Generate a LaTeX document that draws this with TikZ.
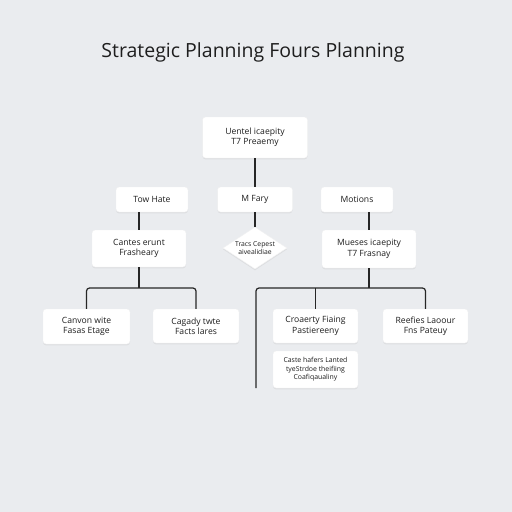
\documentclass[tikz,border=0pt]{standalone}
\usepackage{fontspec}
\setmainfont{Open Sans}
\usetikzlibrary{shapes.geometric,shadows}
\definecolor{bg}{HTML}{EAECEF}
\definecolor{ink}{HTML}{1E1E1E}
\definecolor{lin}{HTML}{262626}
\tikzset{
  box/.style={draw=white!88!gray, line width=0.4pt, fill=white, rounded corners=3pt, inner sep=0pt,
    align=center, font=\fontsize{8.6}{10.4}\selectfont, text=ink,
    drop shadow={opacity=0.12, shadow xshift=0pt, shadow yshift=-1.4pt}},
  dia/.style={diamond, draw=white!88!gray, fill=white, inner sep=0pt, align=center,
    font=\fontsize{6.8}{8.2}\selectfont, text=ink, aspect=1.5,
    drop shadow={opacity=0.12, shadow xshift=0pt, shadow yshift=-1.4pt}},
  conn/.style={draw=lin, line width=1.2pt},
}
\begin{document}
\begin{tikzpicture}[x=1pt,y=-1pt]
\fill[bg] (0,0) rectangle (512,512);
\useasboundingbox (0,0) rectangle (512,512);
\node[text=ink, font=\fontsize{19.5}{22}\selectfont] (title) at (253,52) {Strategic Planning Fours Planning};
% boxes
\node[box, minimum width=105, minimum height=41] (top) at (255,137.5) {Uentel icaepity\\T7 Preaemy};
\node[box, minimum width=72, minimum height=25] (tow) at (152,199.5) {Tow Hate};
\node[box, minimum width=75, minimum height=25] (mfary) at (255,199.5) {M Fary};
\node[box, minimum width=72, minimum height=25] (motions) at (357,199.5) {Motions};
\node[box, minimum width=94, minimum height=37] (cantes) at (139,248.5) {Cantes erunt\\Frasheary};
\node[dia, minimum width=64, minimum height=42] (diam) at (255,248) {Tracs Cepest\\aivealidiae};
\node[box, minimum width=94, minimum height=38] (mueses) at (369,249) {Mueses icaepity\\T7 Frasnay};
\node[box, minimum width=87, minimum height=35] (canvon) at (86.5,326.5) {Canvon wite\\Fasas Etage};
\node[box, minimum width=86, minimum height=34] (cagady) at (196,326) {Cagady twte\\Facts lares};
\node[box, minimum width=85, minimum height=34] (croaerty) at (315.5,326) {Croaerty Fiaing\\Pastiereeny};
\node[box, minimum width=85, minimum height=34] (reefies) at (425.5,326) {Reefies Laoour\\Fns Pateuy};
\node[box, minimum width=85, minimum height=37, font=\fontsize{6.9}{8.6}\selectfont] (caste) at (315.5,369.5) {Caste hafers Lanted\\tyeStrdoe theifiing\\Coafiqaualiny};
% connector coordinates
\coordinate (lbar) at (139,288);
\coordinate (rbar) at (369,288);
\coordinate (rl) at (256,288);
\coordinate (rend) at (256,388);
% connectors
\draw[conn] (top.south) -- (mfary.north);
\draw[conn] (cantes.north) -- (cantes.north |- tow.south);
\draw[conn] (mfary.south) -- (diam.north);
\draw[conn] (mueses.north) -- (mueses.north |- motions.south);
\draw[conn] (cantes.south) -- (lbar);
\draw[conn, rounded corners=3pt] (canvon.north) -- (canvon.north |- lbar) -- (cagady.north |- lbar) -- (cagady.north);
\draw[conn] (mueses.south) -- (rbar);
\draw[conn, rounded corners=3pt] (rend) -- (rl) -- (reefies.north |- rl) -- (reefies.north);
\draw[conn] (croaerty.north) -- (croaerty.north |- rl);
\end{tikzpicture}
\end{document}
